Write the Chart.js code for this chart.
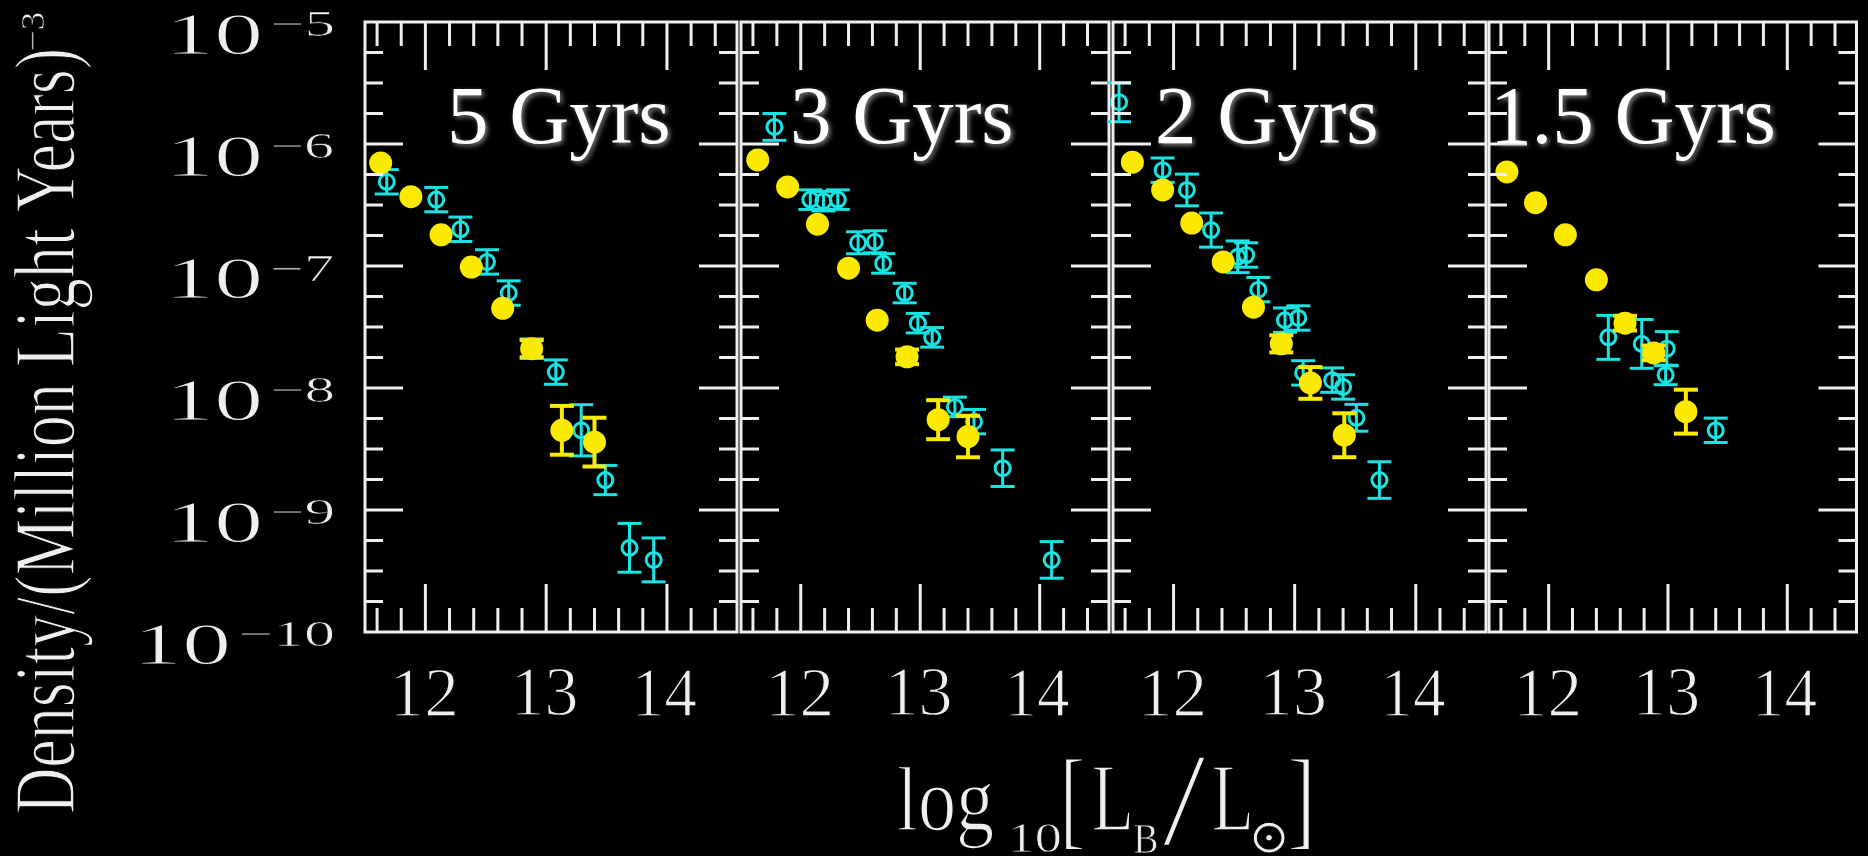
<!DOCTYPE html>
<html>
<head>
<meta charset="utf-8">
<title>Luminosity function by age</title>
<script src="https://cdn.jsdelivr.net/npm/chart.js@4.4.1/dist/chart.umd.min.js"></script>
<style>
    html, body { margin: 0; padding: 0; background: #000; }
    #wrap { position: relative; width: 1868px; height: 856px; background: #000; overflow: hidden; }
    #wrap canvas { position: absolute; left: 0; top: 0; }
</style>
</head>
<body>
<div id="wrap">
    <canvas id="p0" width="1868" height="856"></canvas>
    <canvas id="p1" width="1868" height="856"></canvas>
    <canvas id="p2" width="1868" height="856"></canvas>
    <canvas id="p3" width="1868" height="856"></canvas>
</div>
<script>
// Panel labels and axis ticks
const ages = ["5 Gyrs", "3 Gyrs", "2 Gyrs", "1.5 Gyrs"];
const xTickLabels = [12, 13, 14];
const yDecades = [-5, -6, -7, -8, -9, -10];

// 5 Gyrs: log10 luminosity, density (per cubic Mly), error in dex
const yellowLum5 = [11.63, 11.88, 12.13, 12.38, 12.64, 12.88, 13.13, 13.40];
const yellowDen5 = [7.0e-7, 3.7e-7, 1.8e-7, 9.8e-8, 4.5e-8, 2.1e-8, 4.5e-9, 3.6e-9];
const yellowErr5 = [0, 0, 0, 0, 0, 0.07, 0.2, 0.2];
const cyanLum5 = [11.68, 12.09, 12.29, 12.51, 12.69, 12.88, 13.08, 13.29, 13.49, 13.69, 13.89];
const cyanDen5 = [4.9e-7, 3.5e-7, 2.0e-7, 1.08e-7, 6.0e-8, 2.1e-8, 1.35e-8, 4.5e-9, 1.76e-9, 4.9e-10, 3.9e-10];
const cyanErr5 = [0.1, 0.1, 0.1, 0.1, 0.1, 0.08, 0.1, 0.21, 0.12, 0.2, 0.18];

// 3 Gyrs
const yellowLum3 = [11.64, 11.89, 12.14, 12.40, 12.64, 12.89, 13.15, 13.40];
const yellowDen3 = [7.4e-7, 4.45e-7, 2.2e-7, 9.6e-8, 3.6e-8, 1.8e-8, 5.5e-9, 4.0e-9];
const yellowErr3 = [0, 0, 0, 0, 0, 0.06, 0.16, 0.17];
const cyanLum3 = [11.78, 12.08, 12.19, 12.31, 12.48, 12.62, 12.69, 12.87, 12.98, 13.10, 13.29, 13.45, 13.69, 14.10];
const cyanDen3 = [1.38e-6, 3.5e-7, 3.4e-7, 3.5e-7, 1.55e-7, 1.58e-7, 1.05e-7, 6.0e-8, 3.4e-8, 2.6e-8, 7.0e-9, 5.3e-9, 2.2e-9, 3.9e-10];
const cyanErr3 = [0.11, 0.08, 0.08, 0.08, 0.09, 0.09, 0.08, 0.08, 0.08, 0.08, 0.08, 0.1, 0.15, 0.15];

// 2 Gyrs
const yellowLum2 = [11.66, 11.91, 12.15, 12.41, 12.66, 12.89, 13.13, 13.41];
const yellowDen2 = [7.1e-7, 4.2e-7, 2.25e-7, 1.08e-7, 4.6e-8, 2.3e-8, 1.1e-8, 4.1e-9];
const yellowErr2 = [0, 0, 0, 0, 0, 0.07, 0.13, 0.18];
const cyanLum2 = [11.55, 11.91, 12.11, 12.31, 12.53, 12.60, 12.70, 12.92, 13.03, 13.07, 13.31, 13.40, 13.51, 13.70];
const cyanDen2 = [2.2e-6, 6.1e-7, 4.2e-7, 1.97e-7, 1.19e-7, 1.23e-7, 6.4e-8, 3.6e-8, 3.75e-8, 1.33e-8, 1.16e-8, 1.02e-8, 5.7e-9, 1.76e-9];
const cyanErr2 = [0.16, 0.1, 0.13, 0.14, 0.13, 0.1, 0.1, 0.1, 0.1, 0.1, 0.1, 0.1, 0.11, 0.15];

// 1.5 Gyrs
const yellowLum15 = [11.65, 11.89, 12.14, 12.40, 12.64, 12.88, 13.15];
const yellowDen15 = [5.9e-7, 3.3e-7, 1.8e-7, 7.7e-8, 3.4e-8, 1.94e-8, 6.4e-9];
const yellowErr15 = [0, 0, 0, 0, 0.06, 0.06, 0.18];
const cyanLum15 = [12.50, 12.78, 12.99, 12.98, 13.40];
const cyanDen15 = [2.6e-8, 2.3e-8, 2.1e-8, 1.28e-8, 4.5e-9];
const cyanErr15 = [0.18, 0.2, 0.14, 0.08, 0.1];

const panels = [
    { yl: yellowLum5, yd: yellowDen5, ye: yellowErr5, cl: cyanLum5, cd: cyanDen5, ce: cyanErr5 },
    { yl: yellowLum3, yd: yellowDen3, ye: yellowErr3, cl: cyanLum3, cd: cyanDen3, ce: cyanErr3 },
    { yl: yellowLum2, yd: yellowDen2, ye: yellowErr2, cl: cyanLum2, cd: cyanDen2, ce: cyanErr2 },
    { yl: yellowLum15, yd: yellowDen15, ye: yellowErr15, cl: cyanLum15, cd: cyanDen15, ce: cyanErr15 },
];

// layout
const W = 1868, H = 856;
const boxes = [[365, 737], [741, 1109], [1113, 1486], [1489, 1860]];
const plotTop = 22, plotBottom = 632;
const ageX = [447, 790, 1155, 1490];
const INK = "#efefef";
const YELLOW = "#fbea00";
const CYAN = "#1ae3e3";
const SERIF = '"Liberation Serif", "DejaVu Serif", serif';

// draw a string so that its ink box fills the given rectangle;
// a thin black outline trims the stretched strokes back down
function fitBox(ctx, str, x0, x1, y0, y1) {
    ctx.font = "60px " + SERIF;
    ctx.textAlign = "left";
    ctx.textBaseline = "alphabetic";
    const m = ctx.measureText(str);
    const l = -m.actualBoundingBoxLeft, r = m.actualBoundingBoxRight;
    const t = -m.actualBoundingBoxAscent, b = m.actualBoundingBoxDescent;
    const sx = (x1 - x0) / (r - l), sy = (y1 - y0) / (b - t);
    ctx.save();
    ctx.translate(x0 - l * sx, y0 - t * sy);
    ctx.scale(sx, sy);
    ctx.fillText(str, 0, 0);
    ctx.strokeStyle = "#000";
    ctx.lineJoin = "round";
    ctx.lineWidth = 1.1;
    ctx.strokeText(str, 0, 0);
    ctx.restore();
}

function line(ctx, x0, y0, x1, y1) {
    ctx.beginPath();
    ctx.moveTo(x0, y0);
    ctx.lineTo(x1, y1);
    ctx.stroke();
}

// vertical error bars with caps, drawn under each dataset's markers
const errorBars = {
    id: "errorBars",
    beforeDatasetDraw(chart, args) {
        const ds = chart.data.datasets[args.index];
        if (!ds.errors) return;
        const { ctx, scales: { x, y } } = chart;
        ctx.save();
        ctx.strokeStyle = ds.errColor;
        ctx.lineWidth = ds.errWidth;
        ds.data.forEach((p, i) => {
            const e = ds.errors[i];
            if (!e) return;
            const px = x.getPixelForValue(p.x);
            const top = y.getPixelForValue(p.y * Math.pow(10, e));
            const bot = y.getPixelForValue(p.y / Math.pow(10, e));
            line(ctx, px, top, px, bot);
            line(ctx, px - 12, top, px + 12, top);
            line(ctx, px - 12, bot, px + 12, bot);
        });
        ctx.restore();
    }
};

// box with inward ticks on all four sides
const frame = {
    id: "frame",
    afterDatasetsDraw(chart) {
        const { ctx, chartArea: a, scales: { x, y } } = chart;
        ctx.save();
        ctx.strokeStyle = INK;
        ctx.lineWidth = 3;
        ctx.strokeRect(a.left, a.top, a.right - a.left, a.bottom - a.top);
        for (let i = Math.ceil(x.min * 5); i <= Math.floor(x.max * 5); i++) {
            const px = x.getPixelForValue(i / 5);
            const len = i % 5 === 0 ? 48 : 24;
            line(ctx, px, a.bottom, px, a.bottom - len);
            line(ctx, px, a.top, px, a.top + len);
        }
        for (let k = -39; k <= -21; k++) {
            const py = y.getPixelForValue(Math.pow(10, k / 4));
            const len = k % 4 === 0 ? 38 : 18;
            line(ctx, a.left, py, a.left + len, py);
            line(ctx, a.right, py, a.right - len, py);
        }
        ctx.restore();
    }
};

// age caption and luminosity tick labels under each panel
const panelText = {
    id: "panelText",
    afterDraw(chart) {
        const { ctx, scales: { x } } = chart;
        const i = chart.options.plugins.panelText.index;
        ctx.save();
        ctx.fillStyle = INK;
        xTickLabels.forEach(v => {
            const px = x.getPixelForValue(v);
            fitBox(ctx, String(v), px - 30, px + 30, 670, 716);
        });
        ctx.font = "83px " + SERIF;
        ctx.fillStyle = "#ffffff";
        ctx.shadowColor = "rgba(190,190,190,0.7)";
        ctx.shadowBlur = 5;
        ctx.shadowOffsetX = 2;
        ctx.shadowOffsetY = 2;
        ctx.textAlign = "left";
        ctx.textBaseline = "alphabetic";
        ctx.fillText(ages[i], ageX[i], 143);
        ctx.restore();
    }
};

// density tick labels and both axis titles, drawn once by the first panel
const axisText = {
    id: "axisText",
    afterDraw(chart) {
        const { ctx, scales: { y } } = chart;
        ctx.save();
        ctx.fillStyle = INK;
        yDecades.forEach(d => {
            const py = y.getPixelForValue(Math.pow(10, d));
            const sup = "\u2212" + String(-d);
            const supLeft = d <= -10 ? 240 : 272;
            fitBox(ctx, sup, supLeft, 333, py - 9, py + 15);
            fitBox(ctx, "10", supLeft - 99, supLeft - 12, py - 7, py + 33);
        });

        // rotated density title
        ctx.save();
        ctx.rotate(-Math.PI / 2);
        fitBox(ctx, "Density/(Million Light Years)", -813, -50, 13, 93);
        fitBox(ctx, "\u22123", -50, -13, 22, 45);
        ctx.restore();

        // log10[L_B/L_sun]
        fitBox(ctx, "log", 898, 993, 768, 850);
        fitBox(ctx, "10", 1012, 1060, 825, 853);
        fitBox(ctx, "[", 1065, 1083, 760, 850);
        fitBox(ctx, "L", 1093, 1131, 768, 830);
        fitBox(ctx, "B", 1134, 1157, 825, 853);
        fitBox(ctx, "/", 1162, 1207, 758, 847);
        fitBox(ctx, "L", 1213, 1251, 768, 830);
        fitBox(ctx, "\u2299", 1253, 1285, 822, 853);
        fitBox(ctx, "]", 1290, 1310, 760, 850);
        ctx.restore();
    }
};

function points(lum, den) {
    return lum.map((v, i) => ({ x: v, y: den[i] }));
}

panels.forEach((p, i) => {
    const [left, right] = boxes[i];
    new Chart(document.getElementById("p" + i), {
        type: "scatter",
        data: {
            datasets: [
                {
                    label: "yellow",
                    data: points(p.yl, p.yd),
                    errors: p.ye,
                    errColor: YELLOW,
                    errWidth: 4,
                    pointRadius: 11.5,
                    pointHoverRadius: 11.5,
                    pointBackgroundColor: YELLOW,
                    pointBorderWidth: 0,
                    clip: false,
                },
                {
                    label: "cyan",
                    data: points(p.cl, p.cd),
                    errors: p.ce,
                    errColor: CYAN,
                    errWidth: 3,
                    pointRadius: 7.5,
                    pointHoverRadius: 7.5,
                    pointBackgroundColor: "rgba(0,0,0,0)",
                    pointBorderColor: CYAN,
                    pointBorderWidth: 3,
                    clip: false,
                },
            ],
        },
        options: {
            responsive: false,
            animation: false,
            devicePixelRatio: 1,
            events: [],
            layout: {
                padding: { left: left, right: W - right, top: plotTop, bottom: H - plotBottom },
            },
            scales: {
                x: { type: "linear", min: 11.5, max: 14.58, display: false },
                y: { type: "logarithmic", min: 1e-10, max: 1e-5, display: false },
            },
            plugins: {
                legend: { display: false },
                tooltip: { enabled: false },
                panelText: { index: i },
            },
        },
        plugins: i === 0 ? [errorBars, frame, panelText, axisText] : [errorBars, frame, panelText],
    });
});
</script>
</body>
</html>
